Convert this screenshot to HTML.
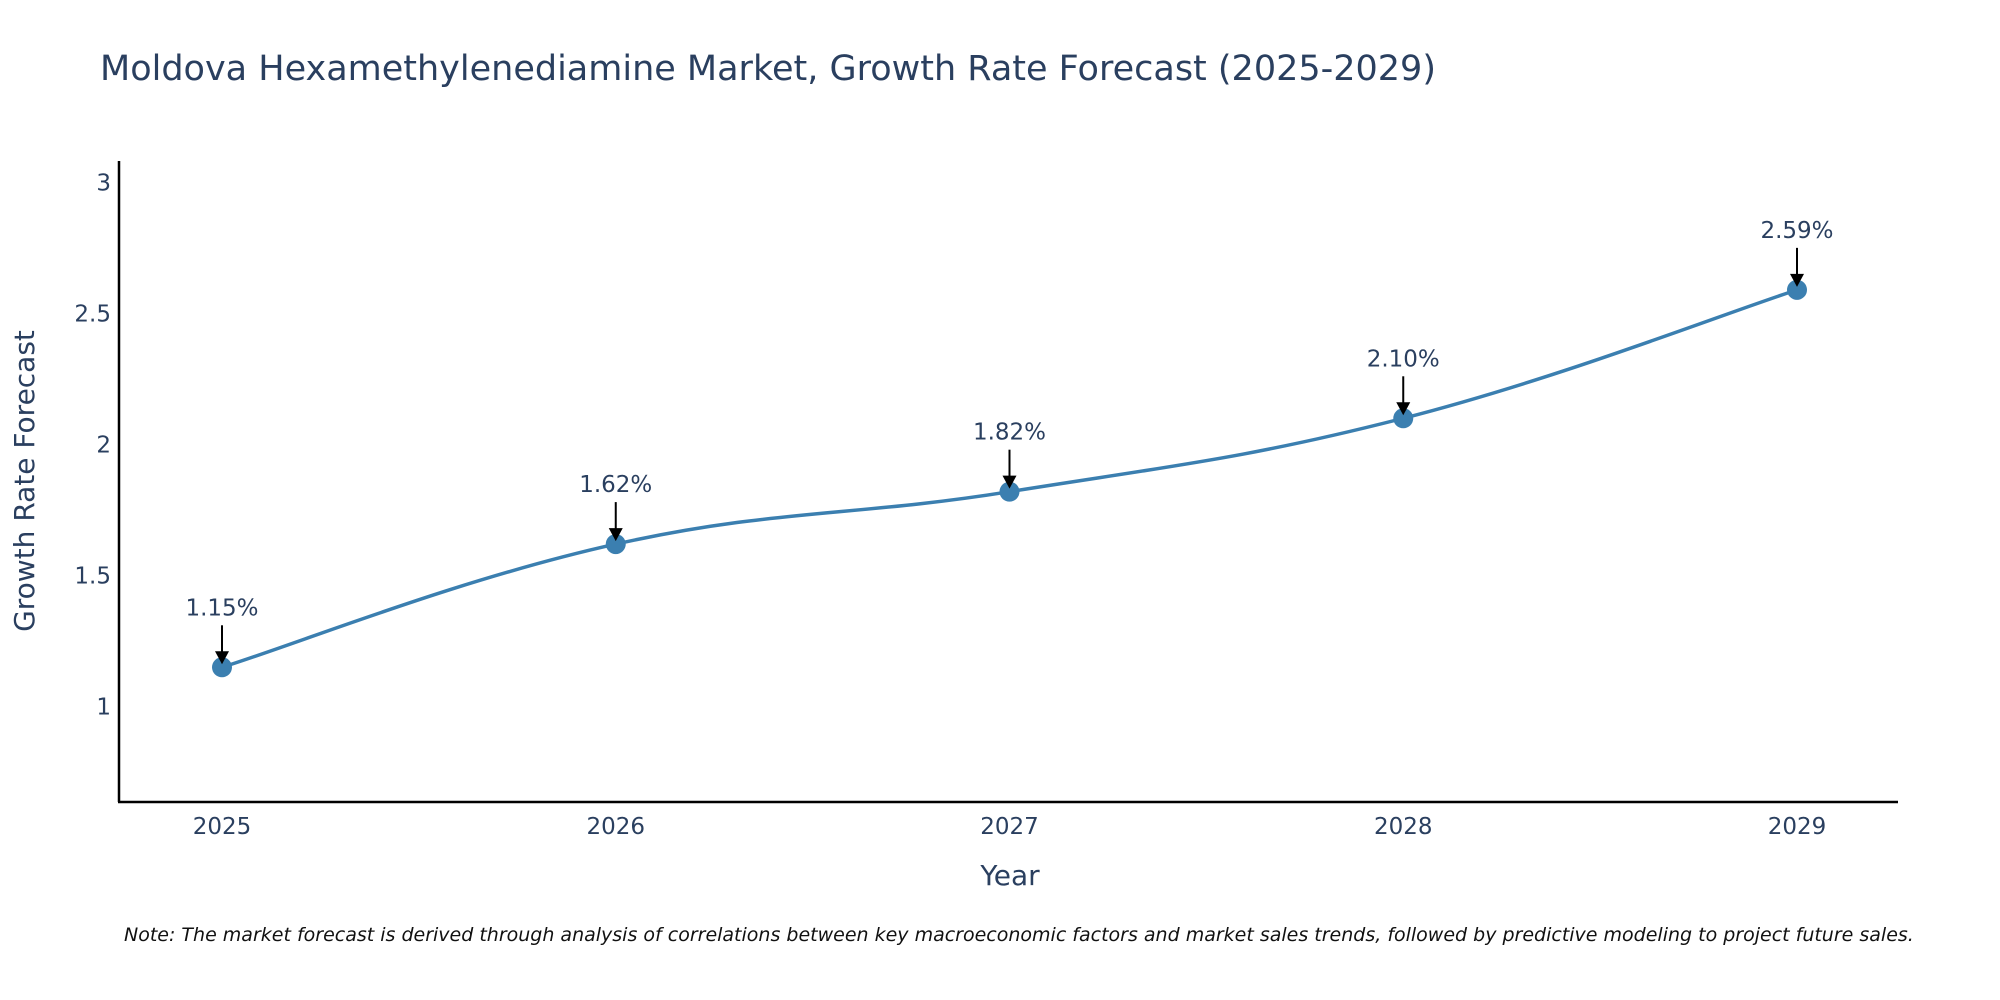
<!DOCTYPE html>
<html><head><meta charset="utf-8">
<style>
body{margin:0;background:#fff;}
svg{display:block;font-family:"DejaVu Sans","Liberation Sans",sans-serif;}
</style></head>
<body>
<svg id="chart" width="2000" height="1000" viewBox="0 0 2000 1000">
<text x="100" y="80" font-size="35" fill="#2a3f5f">Moldova Hexamethylenediamine Market, Growth Rate Forecast (2025-2029)</text>
<g id="yticks"></g>
<g id="xticks"></g>
<line x1="119" y1="161" x2="119" y2="802" stroke="#000" stroke-width="2.5"/>
<line x1="118" y1="802" x2="1898" y2="802" stroke="#000" stroke-width="2.5"/>
<text transform="translate(34,481) rotate(-90)" text-anchor="middle" font-size="28" fill="#2a3f5f">Growth Rate Forecast</text>
<text x="1010" y="885" text-anchor="middle" font-size="28" fill="#2a3f5f">Year</text>
<g id="series"></g>
<g id="annots"></g>
<text x="124" y="941" font-size="19" font-style="italic" fill="#111">Note: The market forecast is derived through analysis of correlations between key macroeconomic factors and market sales trends, followed by predictive modeling to project future sales.</text>
</svg>
<script>
const years = [2025, 2026, 2027, 2028, 2029];
const growth = [1.15, 1.62, 1.82, 2.10, 2.59];
const labels = ["1.15%", "1.62%", "1.82%", "2.10%", "2.59%"];
const yTicks = [1, 1.5, 2, 2.5, 3];
const yTickLabels = ["1", "1.5", "2", "2.5", "3"];

const NS = "http://www.w3.org/2000/svg";
function xs(v){ return 222 + (v - 2025) * (1797 - 222) / 4; }
function ys(v){ return 706.6 - (v - 1) * 262.1; }
function mk(tag, attrs, parent){
  const e = document.createElementNS(NS, tag);
  for (const k in attrs) e.setAttribute(k, attrs[k]);
  parent.appendChild(e); return e;
}
const yt = document.getElementById('yticks');
yTicks.forEach((t,i)=>{
  const e = mk('text',{x:111,y:ys(t)+8,'text-anchor':'end','font-size':23,fill:'#2a3f5f'},yt);
  
  
  e.textContent = yTickLabels[i];
});
const xt = document.getElementById('xticks');
years.forEach(y=>{
  const e = mk('text',{x:xs(y),y:834,'text-anchor':'middle','font-size':23,fill:'#2a3f5f'},xt);
  
  
  e.textContent = y;
});
const pts = years.map((y,i)=>[xs(y), ys(growth[i])]);
let d = `M${pts[0][0]},${pts[0][1]}`;
const s = 0.2;
for (let i=0;i<pts.length-1;i++){
  const p0 = pts[Math.max(0,i-1)], p1 = pts[i], p2 = pts[i+1], p3 = pts[Math.min(pts.length-1,i+2)];
  const c1 = [p1[0]+(p2[0]-p0[0])*s, p1[1]+(p2[1]-p0[1])*s];
  const c2 = [p2[0]-(p3[0]-p1[0])*s, p2[1]-(p3[1]-p1[1])*s];
  d += ` C${c1[0]},${c1[1]} ${c2[0]},${c2[1]} ${p2[0]},${p2[1]}`;
}
const sg = document.getElementById('series');
const line = mk('path',{d:d,fill:'none',stroke:'#3b7fb0','stroke-width':3.5},sg);


const an = document.getElementById('annots');
pts.forEach((p,i)=>{
  const c = mk('circle',{cx:p[0],cy:p[1],r:10,fill:'#3b7fb0'},sg);
  
  
  const a = mk('line',{x1:p[0],y1:p[1]-42,x2:p[0],y2:p[1]-14,stroke:'#000','stroke-width':2},an);
  
  
  const h = mk('polygon',{points:`${p[0]-7},${p[1]-16} ${p[0]+7},${p[1]-16} ${p[0]},${p[1]-3}`,fill:'#000'},an);
  
  
  const t = mk('text',{x:p[0],y:p[1]-52,'text-anchor':'middle','font-size':23,fill:'#2a3f5f'},an);
  
  
  t.textContent = labels[i];
});
</script>
</body></html>
